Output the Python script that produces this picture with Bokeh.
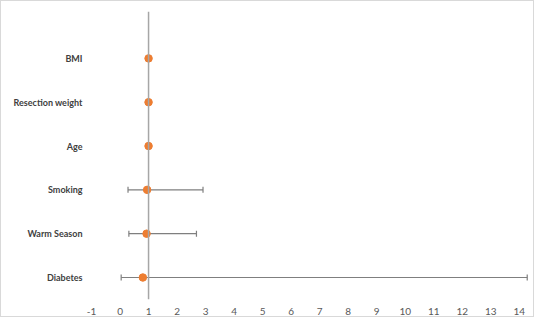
from bokeh.plotting import figure
from bokeh.models import ColumnDataSource, Whisker, Span, FixedTicker, TeeHead
from bokeh.embed import file_html
from bokeh.resources import INLINE

variables = ["Diabetes", "Warm Season", "Smoking", "Age", "Resection weight", "BMI"]
odds_ratio = [0.80, 0.93, 0.95, 1.00, 1.00, 1.00]
ci_lower = [0.04, 0.31, 0.28, 0.98, 0.98, 0.95]
ci_upper = [14.28, 2.68, 2.91, 1.02, 1.02, 1.07]
x_ticks = list(range(-1, 15))

ypos = list(range(1, len(variables) + 1))
src = ColumnDataSource(dict(y=ypos, x=odds_ratio, lo=ci_lower, hi=ci_upper))

p = figure(width=534, height=317, output_backend="svg", toolbar_location=None,
           x_range=(-1.176, 14.43), y_range=(0.498, 7.07),
           min_border_left=85, min_border_right=4, min_border_top=10, min_border_bottom=19)
p.styles = {"border": "1px solid #d9d9d9"}
p.outline_line_color = None
p.xgrid.visible = False
p.ygrid.visible = False

p.add_layout(Span(location=1, dimension="height", line_color="#a6a6a6", line_width=1.5))

w = Whisker(source=src, base="y", lower="lo", upper="hi", dimension="width",
            line_color="#7f7f7f", line_width=1.2,
            lower_head=TeeHead(size=6, line_color="#7f7f7f", line_width=1.2),
            upper_head=TeeHead(size=6, line_color="#7f7f7f", line_width=1.2))
p.add_layout(w)

p.scatter("x", "y", source=src, size=7.5, color="#ED7D31", marker="circle")

p.xaxis.ticker = FixedTicker(ticks=x_ticks)
p.xaxis.major_label_overrides = {t: str(t) for t in x_ticks}
p.xaxis.axis_line_color = None
p.xaxis.major_tick_line_color = None
p.xaxis.minor_tick_line_color = None
p.xaxis.major_tick_out = 0
p.xaxis.major_tick_in = 0
p.xaxis.major_label_standoff = 8
p.xaxis.major_label_text_font = "Lato"
p.xaxis.major_label_text_font_size = "10px"
p.xaxis.major_label_text_color = "#595959"

p.yaxis.ticker = FixedTicker(ticks=ypos)
p.yaxis.major_label_overrides = {i: v for i, v in zip(ypos, variables)}
p.yaxis.axis_line_color = None
p.yaxis.major_tick_line_color = None
p.yaxis.minor_tick_line_color = None
p.yaxis.major_tick_out = 0
p.yaxis.major_tick_in = 0
p.yaxis.major_label_standoff = 4
p.yaxis.major_label_text_font = "Lato"
p.yaxis.major_label_text_font_style = "bold"
p.yaxis.major_label_text_font_size = "9px"
p.yaxis.major_label_text_color = "#404040"

open("out.html", "w").write(file_html(p, INLINE))
